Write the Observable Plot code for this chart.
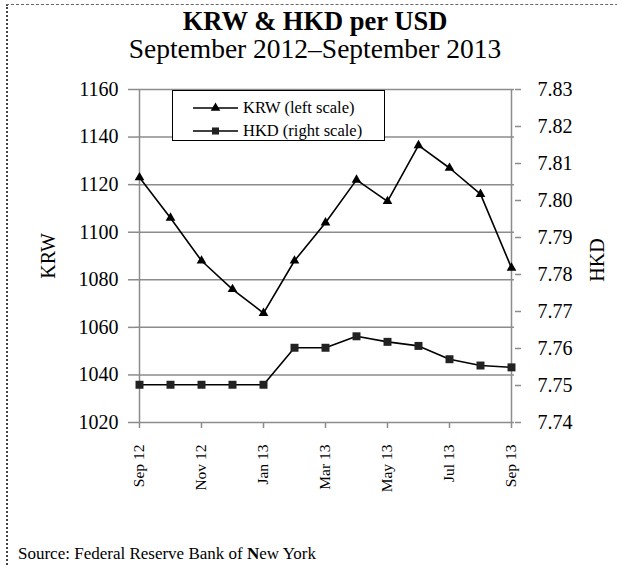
<!DOCTYPE html>
<html>
<head>
<meta charset="utf-8">
<script src="https://cdn.jsdelivr.net/npm/d3@7"></script>
<script src="https://cdn.jsdelivr.net/npm/@observablehq/plot@0.6"></script>
<style>
  body { margin: 0; background: #fff; }
  #wrap { position: relative; width: 617px; height: 565px; overflow: hidden; background: #fff;
          font-family: "Liberation Serif", "Times New Roman", serif; color: #000; }
  #frame { position: absolute; left: 6px; top: 4px; width: 700px; height: 700px;
           border-top: 1.5px dashed #666; border-left: 2px dotted #444; }
  #title { position: absolute; left: 10px; width: 610px; top: 6px; text-align: center;
           font-weight: bold; font-size: 26.5px; line-height: 30px; }
  #subtitle { position: absolute; left: 10px; width: 610px; top: 34px; text-align: center;
           font-size: 27.5px; line-height: 30px; }
  #chart { position: absolute; left: 0; top: 70px; }
  #chart svg text { font-family: "Liberation Serif", "Times New Roman", serif; }
  #legend { position: absolute; left: 172px; top: 90px; width: 211px; height: 49px;
            border: 1.5px solid #000; background: #fff; }
  .row { position: absolute; left: 20px; height: 20px; display: flex; align-items: center;
         font-size: 16.5px; white-space: nowrap; }
  .row svg { margin-right: 5px; }
  #source { position: absolute; left: 18px; top: 545px; font-size: 17px; line-height: 17px; }
</style>
</head>
<body>
<div id="wrap">
  <div id="frame"></div>
  <div id="title"></div>
  <div id="subtitle"></div>
  <div id="chart"></div>
  <div id="legend"></div>
  <div id="source"></div>
</div>
<script>
// ---- data ----
const titleText = "KRW & HKD per USD";
const subtitleText = "September 2012\u2013September 2013";
const months = ["Sep 12","Oct 12","Nov 12","Dec 12","Jan 13","Feb 13","Mar 13",
                "Apr 13","May 13","Jun 13","Jul 13","Aug 13","Sep 13"];
const krw = [1123, 1106, 1088, 1076, 1066, 1088, 1104, 1122, 1113, 1136.5, 1127, 1116, 1085];
const hkd = [7.7502, 7.7502, 7.7502, 7.7502, 7.7502, 7.7602, 7.7602, 7.7633, 7.7618, 7.7607, 7.7571, 7.7554, 7.7549];
const krwTicks = [1020, 1040, 1060, 1080, 1100, 1120, 1140, 1160];
const hkdTicks = [7.74, 7.75, 7.76, 7.77, 7.78, 7.79, 7.80, 7.81, 7.82, 7.83];
const xTickLabels = ["Sep 12","Nov 12","Jan 13","Mar 13","May 13","Jul 13","Sep 13"];
const seriesNames = ["KRW (left scale)", "HKD (right scale)"];
const leftLabel = "KRW", rightLabel = "HKD";

// ---- mapping of right scale onto left scale ----
const kMin = krwTicks[0], kMax = krwTicks[krwTicks.length - 1];
const hMin = hkdTicks[0], hMax = hkdTicks[hkdTicks.length - 1];
const toY = v => kMin + (v - hMin) * (kMax - kMin) / (hMax - hMin);
const fromY = y => hMin + (y - kMin) * (hMax - hMin) / (kMax - kMin);

const rows = months.map((m, i) => ({month: m, krw: krw[i], hkd: hkd[i], hkdY: toY(hkd[i])}));

document.getElementById("title").textContent = titleText;
document.getElementById("subtitle").textContent = subtitleText;

const serif = "Liberation Serif";
const grid = "#8c8c8c";
const chart = Plot.plot({
  width: 617,
  height: 420,
  marginTop: 19,
  marginBottom: 68,
  marginLeft: 135,
  marginRight: 103,
  style: {fontFamily: "'Liberation Serif', 'Times New Roman', serif", fontSize: "20px", color: "#000", background: "transparent", overflow: "visible"},
  x: {type: "point", domain: months, padding: 0},
  y: {domain: [kMin, kMax]},
  marks: [
    Plot.ruleY(krwTicks, {stroke: grid, strokeWidth: 1.5}),
    Plot.ruleX([months[0], months[months.length - 1]], {stroke: grid, strokeWidth: 1.5}),
    Plot.axisY(krwTicks, {anchor: "left", tickSize: 7, tickPadding: 10, stroke: grid, strokeWidth: 1.5,
      tickFormat: d => String(d), label: null, fontSize: 20, fontFamily: serif}),
    Plot.axisY(hkdTicks.map(toY), {anchor: "right", tickSize: 6, tickPadding: 17, stroke: grid, strokeWidth: 1.5,
      tickFormat: d => fromY(d).toFixed(2), label: null, fontSize: 20, fontFamily: serif}),
    Plot.axisX(xTickLabels, {anchor: "bottom", tickSize: 6, tickPadding: 16, stroke: grid, strokeWidth: 1.5,
      tickRotate: -90, label: null, fontSize: 15.5, fontFamily: serif}),
    Plot.text([leftLabel], {frameAnchor: "left", dx: -87, rotate: -90, textAnchor: "middle", fontSize: 20, fontFamily: serif}),
    Plot.text([rightLabel], {frameAnchor: "right", dx: 83, dy: 4, rotate: -90, textAnchor: "middle", fontSize: 20, fontFamily: serif}),
    Plot.line(rows, {x: "month", y: "krw", stroke: "#000", strokeWidth: 1.6}),
    Plot.dot(rows, {x: "month", y: "krw", symbol: "triangle", r: 3.6, fill: "#000", stroke: "none"}),
    Plot.line(rows, {x: "month", y: "hkdY", stroke: "#000", strokeWidth: 1.6}),
    Plot.dot(rows, {x: "month", y: "hkdY", symbol: "square", r: 4.5, fill: "#222", stroke: "none"})
  ]
});
document.getElementById("chart").appendChild(chart);

// ---- legend ----
const legend = document.getElementById("legend");
const sym = [d3.symbol(d3.symbolTriangle, 40)(), d3.symbol(d3.symbolSquare, 50)()];
seriesNames.forEach((name, i) => {
  const r = document.createElement("div");
  r.className = "row";
  r.style.top = (i === 0 ? 7 : 30) + "px";
  r.innerHTML = `<svg width="45" height="14"><line x1="0" x2="45" y1="7" y2="7" stroke="#000" stroke-width="1.6"/>
    <path d="${sym[i]}" transform="translate(22.5,7)" fill="${i ? '#222' : '#000'}"/></svg><span>${name}</span>`;
  legend.appendChild(r);
});

// ---- source ----
document.getElementById("source").innerHTML = "Source: Federal Reserve Bank of <b>N</b>ew York";
</script>
</body>
</html>
